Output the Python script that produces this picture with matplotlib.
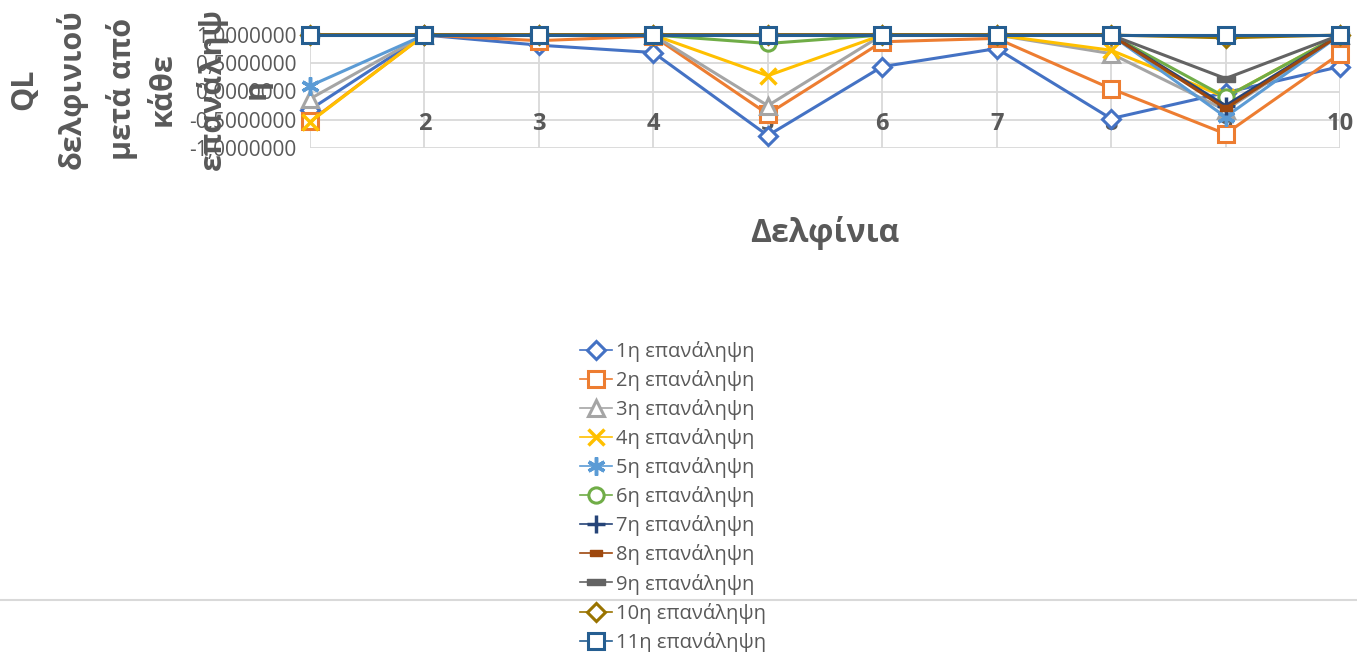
import matplotlib.pyplot as plt
from matplotlib.ticker import FuncFormatter

plt.rcParams['font.family'] = ['Open Sans', 'DejaVu Sans']

# QL value of each dolphin after every iteration
dolphins = [1, 2, 3, 4, 5, 6, 7, 8, 9, 10]
series_names = ['1η επανάληψη', '2η επανάληψη', '3η επανάληψη', '4η επανάληψη',
                '5η επανάληψη', '6η επανάληψη', '7η επανάληψη', '8η επανάληψη',
                '9η επανάληψη', '10η επανάληψη', '11η επανάληψη']
it1 = [-0.32, 1.0, 0.82, 0.69, -0.78, 0.44, 0.76, -0.48, -0.02, 0.44]
it2 = [-0.53, 1.0, 0.90, 0.98, -0.40, 0.88, 0.94, 0.05, -0.75, 0.67]
it3 = [-0.13, 1.0, 1.0, 1.0, -0.25, 1.0, 1.0, 0.67, -0.33, 1.0]
it4 = [-0.54, 1.0, 1.0, 1.0, 0.28, 1.0, 1.0, 0.73, -0.10, 1.0]
it5 = [0.10, 1.0, 1.0, 1.0, 1.0, 1.0, 1.0, 1.0, -0.45, 1.0]
it6 = [1.0, 1.0, 1.0, 1.0, 0.85, 1.0, 1.0, 1.0, -0.10, 1.0]
it7 = [1.0, 1.0, 1.0, 1.0, 1.0, 1.0, 1.0, 1.0, -0.25, 1.0]
it8 = [1.0, 1.0, 1.0, 1.0, 1.0, 1.0, 1.0, 1.0, -0.30, 1.0]
it9 = [1.0, 1.0, 1.0, 1.0, 1.0, 1.0, 1.0, 1.0, 0.23, 1.0]
it10 = [1.0, 1.0, 1.0, 1.0, 1.0, 1.0, 1.0, 1.0, 0.95, 1.0]
it11 = [1.0, 1.0, 1.0, 1.0, 1.0, 1.0, 1.0, 1.0, 1.0, 1.0]
y_ticks = [-1.0, -0.5, 0.0, 0.5, 1.0]

all_series = [it1, it2, it3, it4, it5, it6, it7, it8, it9, it10, it11]
colors = ['#4472C4', '#ED7D31', '#A5A5A5', '#FFC000', '#5B9BD5', '#70AD47',
          '#264478', '#9E480E', '#636363', '#997300', '#255E91']

# small bar shaped markers for iterations 8 and 9
bar_small = [(-1, -0.55), (1, -0.55), (1, 0.55), (-1, 0.55), (-1, -0.55)]
bar_wide = [(-1, -0.35), (1, -0.35), (1, 0.35), (-1, 0.35), (-1, -0.35)]
markers = ['D', 's', '^', 'x', (6, 2, 0), 'o', '+', bar_small, bar_wide, 'D', 's']
msizes = [9, 11, 11, 12, 13, 11, 13, 9, 13, 9, 12]
gray = '#595959'

fig = plt.figure(figsize=(13.57, 6.52), dpi=100)
W, H = 1357, 652
ax = fig.add_axes([310 / W, 1 - 148 / H, 1030 / W, 113 / H])

for i, (vals, c, m, ms) in enumerate(zip(all_series, colors, markers, msizes)):
    if i in (3, 4, 6):
        face, mew = c, 2.5
    elif i in (7, 8):
        face, mew = c, 1.0
    else:
        face, mew = 'white', 2.2
    ax.plot(dolphins, vals, color=c, lw=2.2, marker=m, ms=ms, mfc=face,
            mec=c, mew=mew, label=series_names[i], clip_on=False, zorder=3 + i)

ax.set_xlim(1, 10)
ax.set_ylim(-1, 1)
ax.set_xticks(dolphins)
ax.set_yticks(y_ticks)
ax.grid(True, color='#D9D9D9', lw=1.3, zorder=0)
ax.set_axisbelow(True)
for s in ax.spines.values():
    s.set_visible(False)
ax.tick_params(length=0)
ax.tick_params(axis='x', labelbottom=False)
ax.tick_params(axis='y', labelsize=15, labelcolor=gray, pad=10)
ax.yaxis.set_major_formatter(FuncFormatter(lambda v, p: f'{v:.7f}'.replace('.', ',')))

# category labels sit inside the plot, behind the lines
for d in dolphins:
    ax.text(d, 0.21, str(d), transform=ax.get_xaxis_transform(), ha='center',
            va='center', fontsize=17, fontweight='bold', color=gray, zorder=1)

# wrapped vertical axis title
ylabel_lines = ['QL', 'δελφινιού', 'μετά από', 'κάθε', 'επανάληψ', 'η']
ylabel_x = [24, 72, 122, 163, 212, 257]
for txt, xp in zip(ylabel_lines, ylabel_x):
    fig.text(xp / W, 1 - 89 / H, txt, rotation=90, ha='center', va='center',
             fontsize=22, fontweight='bold', color=gray)

fig.text(825 / W, 1 - 233 / H, 'Δελφίνια', ha='center', va='center',
         fontsize=23, fontweight='bold', color=gray)

fig.add_artist(plt.Line2D([0, 1], [1 - 600 / H, 1 - 600 / H], color='#D9D9D9', lw=1.5))

leg = fig.legend(loc='upper left', bbox_to_anchor=(570 / W, 1 - 331 / H), frameon=False,
                 fontsize=14.5, labelcolor=gray, handlelength=1.6, handletextpad=0.2,
                 labelspacing=0.4, borderpad=0)
for h in leg.legend_handles:
    h.set_linewidth(1.2)

fig.savefig('out.png', dpi=100)
